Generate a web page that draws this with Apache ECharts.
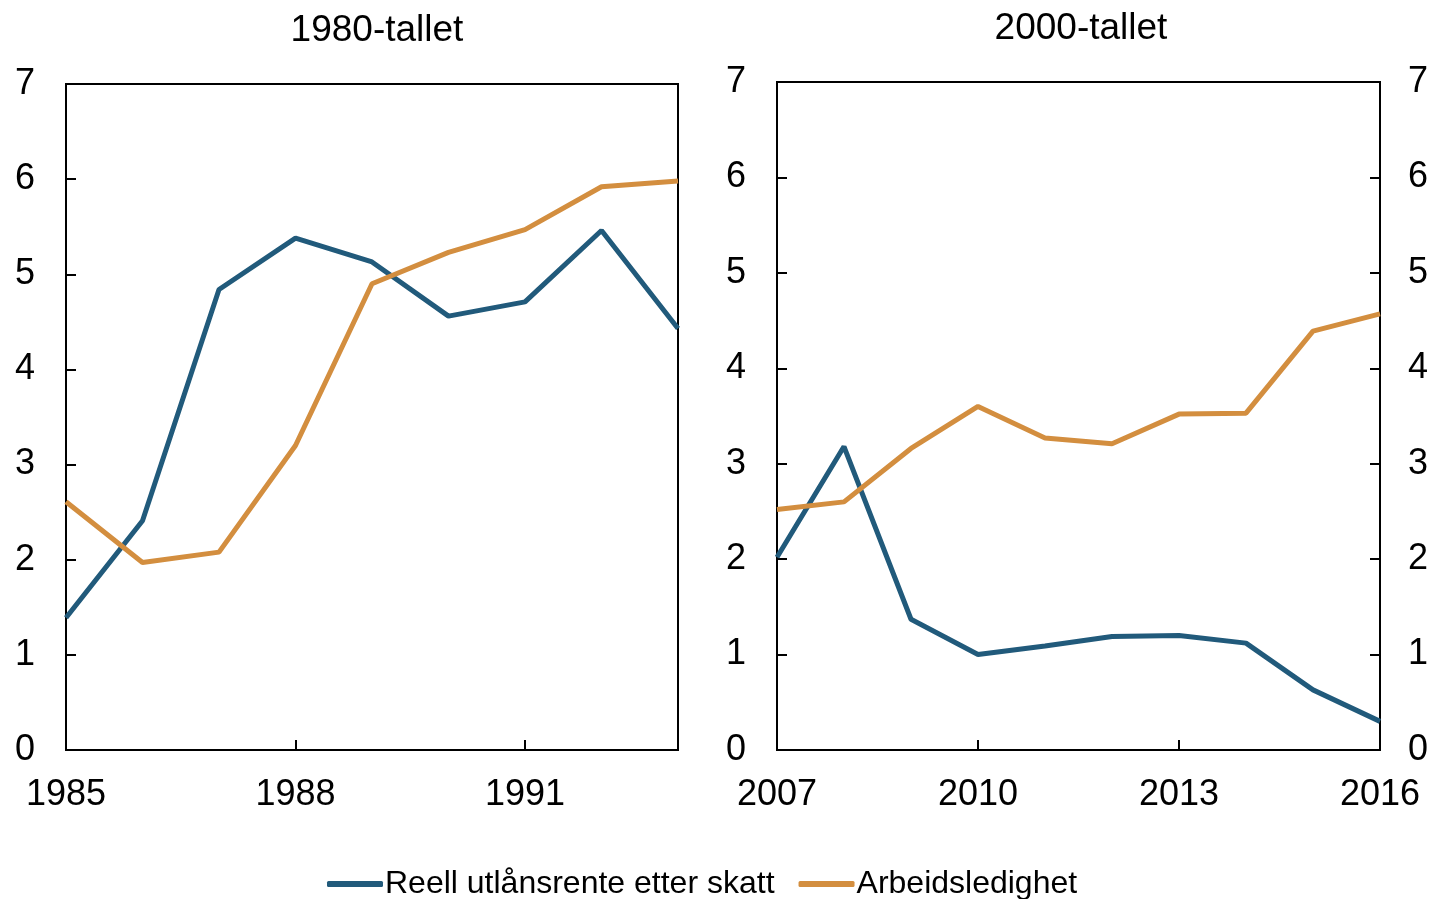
<!DOCTYPE html>
<html>
<head>
<meta charset="utf-8">
<script src="https://cdn.jsdelivr.net/npm/echarts@6/dist/echarts.min.js"></script>
<style>
  html, body { margin: 0; padding: 0; background: #fff; }
  #chart { width: 1437px; height: 899px; }
</style>
</head>
<body>
<div id="chart"></div>
<script>
  // data
  const years80 = ['1985', '1986', '1987', '1988', '1989', '1990', '1991', '1992', '1993'];
  const rente80 = [1.39, 2.41, 4.84, 5.38, 5.13, 4.56, 4.71, 5.46, 4.43];
  const ledig80 = [2.61, 1.97, 2.08, 3.2, 4.9, 5.23, 5.47, 5.92, 5.98];

  const years00 = ['2007', '2008', '2009', '2010', '2011', '2012', '2013', '2014', '2015', '2016'];
  const rente00 = [2.02, 3.18, 1.37, 1.0, 1.09, 1.19, 1.2, 1.12, 0.63, 0.3];
  const ledig00 = [2.52, 2.6, 3.16, 3.6, 3.27, 3.21, 3.52, 3.53, 4.39, 4.57];

  const titles = ['1980-tallet', '2000-tallet'];
  const seriesNames = ['Reell utlånsrente etter skatt', 'Arbeidsledighet'];

  const blue = '#215A7B';
  const orange = '#D38E3F';
  const font = "'Liberation Sans', Arial, sans-serif";

  let chart = echarts.init(document.getElementById('chart'));

  function xAxis(idx, data) {
    return {
      type: 'category',
      gridIndex: idx,
      data: data,
      boundaryGap: false,
      axisLine: { lineStyle: { color: '#000', width: 2 } },
      axisTick: { inside: true, length: 10, interval: 2, lineStyle: { color: '#000', width: 2 } },
      axisLabel: { interval: 2, color: '#000', fontSize: 36, fontFamily: font, margin: 27 },
      splitLine: { show: false }
    };
  }

  function yAxis(idx, pos, labels) {
    return {
      type: 'value',
      gridIndex: idx,
      position: pos,
      min: 0,
      max: 7,
      interval: 1,
      axisLine: { show: true, lineStyle: { color: '#000', width: 2 } },
      axisTick: { show: true, inside: true, length: 10, lineStyle: { color: '#000', width: 2 } },
      axisLabel: { show: labels, color: '#000', fontSize: 36, fontFamily: font, margin: pos === 'left' ? 31 : 28 },
      splitLine: { show: false }
    };
  }

  function line(name, color, xi, yi, data) {
    return {
      name: name,
      type: 'line',
      xAxisIndex: xi,
      yAxisIndex: yi,
      data: data,
      showSymbol: false,
      symbol: 'none',
      lineStyle: { color: color, width: 5 },
      itemStyle: { color: color },
      animation: false
    };
  }

  chart.setOption({
    backgroundColor: '#fff',
    animation: false,
    title: [
      { text: titles[0], left: 372, top: 7, textAlign: 'center',
        textStyle: { fontSize: 37, fontWeight: 'normal', color: '#000', fontFamily: font } },
      { text: titles[1], left: 1076, top: 5, textAlign: 'center',
        textStyle: { fontSize: 37, fontWeight: 'normal', color: '#000', fontFamily: font } }
    ],
    legend: {
      left: 322,
      top: 863,
      itemWidth: 56,
      itemHeight: 6,
      itemGap: 24,
      icon: 'roundRect',
      textStyle: { fontSize: 32, color: '#000', fontFamily: font, padding: [0, 0, 0, -3] },
      data: seriesNames
    },
    grid: [
      { left: 66, right: 1437 - 678, top: 84, bottom: 149, show: true, borderColor: '#000', borderWidth: 2 },
      { left: 777, right: 1437 - 1380, top: 82, bottom: 149, show: true, borderColor: '#000', borderWidth: 2 }
    ],
    xAxis: [xAxis(0, years80), xAxis(1, years00)],
    yAxis: [yAxis(0, 'left', true), yAxis(1, 'left', true), yAxis(1, 'right', true)],
    series: [
      line(seriesNames[0], blue, 0, 0, rente80),
      line(seriesNames[1], orange, 0, 0, ledig80),
      line(seriesNames[0], blue, 1, 1, rente00),
      line(seriesNames[1], orange, 1, 1, ledig00)
    ]
  });
</script>
</body>
</html>
